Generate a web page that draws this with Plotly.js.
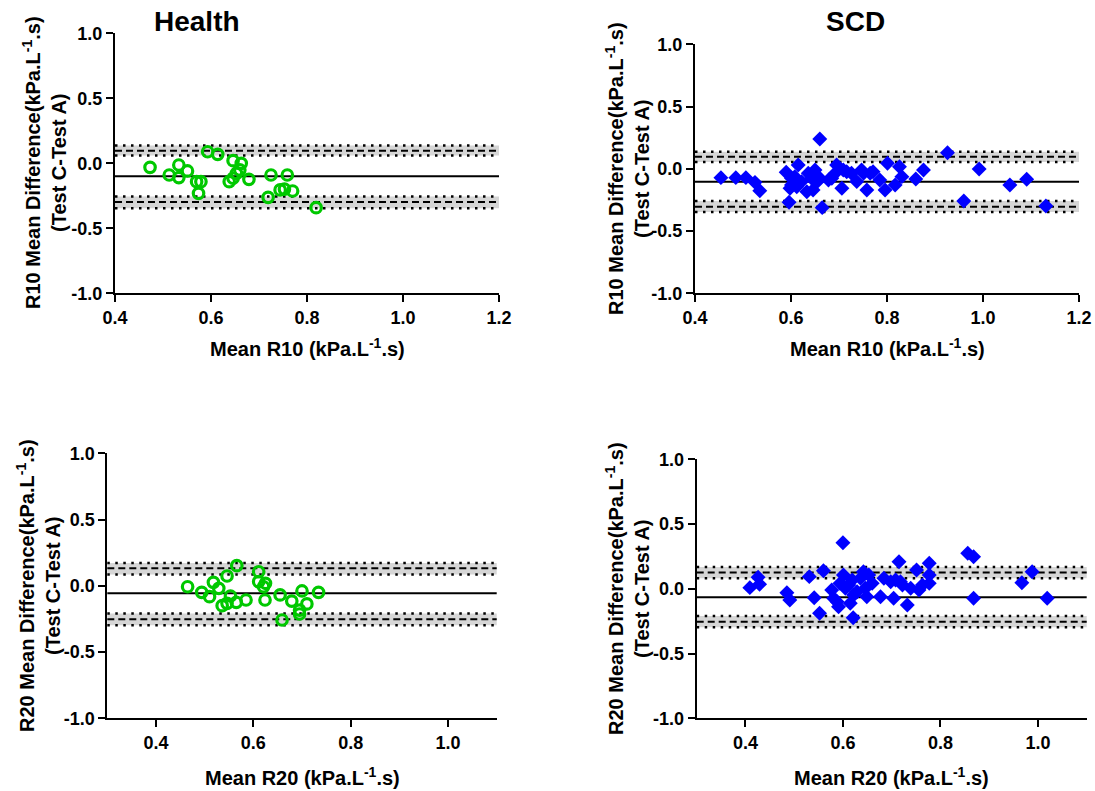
<!DOCTYPE html>
<html>
<head>
<meta charset="utf-8">
<script src="https://cdn.plot.ly/plotly-3.0.1.min.js"></script>
<style>html,body{margin:0;padding:0;background:#fff;}#chart{width:1095px;height:791px;}</style>
</head>
<body>
<div id="chart"></div>
<script>
// ---------- data ----------
var healthR10X = [0.473,0.513,0.533,0.533,0.551,0.570,0.579,0.574,0.593,0.614,0.638,0.646,0.646,0.653,0.663,0.660,0.679,0.725,0.719,0.744,0.753,0.759,0.770,0.819];
var healthR10Y = [-0.031,-0.090,-0.013,-0.110,-0.059,-0.141,-0.141,-0.231,0.089,0.069,-0.141,-0.115,0.020,-0.077,0.000,-0.051,-0.123,-0.090,-0.262,-0.205,-0.198,-0.090,-0.213,-0.341];

var scdR10X = [0.454,0.485,0.506,0.525,0.535,0.590,0.601,0.615,0.598,0.596,0.660,0.665,0.622,0.633,0.643,0.646,0.650,0.655,0.636,0.608,0.685,0.695,0.706,0.709,0.692,0.726,0.737,0.747,0.758,0.765,0.771,0.785,0.796,0.801,0.817,0.826,0.831,0.860,0.876,0.926,0.960,0.992,1.056,1.091,1.131,0.601,0.660,0.612,0.716,0.751,0.678];
var scdR10Y = [-0.071,-0.071,-0.071,-0.109,-0.176,-0.028,-0.076,0.031,-0.157,-0.269,0.239,-0.312,-0.103,-0.184,-0.076,-0.170,-0.010,-0.103,-0.036,-0.063,-0.076,0.031,-0.157,-0.010,-0.036,-0.036,-0.103,-0.010,-0.170,-0.036,-0.023,-0.090,-0.170,0.044,-0.130,0.017,-0.063,-0.082,-0.010,0.129,-0.259,-0.002,-0.130,-0.084,-0.299,-0.130,-0.076,-0.144,-0.023,-0.036,-0.090];

var healthR20X = [0.465,0.494,0.510,0.518,0.529,0.546,0.566,0.536,0.546,0.553,0.565,0.585,0.611,0.611,0.625,0.621,0.624,0.655,0.679,0.659,0.695,0.695,0.700,0.710,0.734];
var healthR20Y = [-0.007,-0.049,-0.082,0.026,-0.019,0.074,0.152,-0.150,-0.132,-0.077,-0.125,-0.107,0.106,0.031,0.019,-0.007,-0.107,-0.069,-0.115,-0.258,-0.183,-0.213,-0.039,-0.137,-0.049];

var scdR20X = [0.409,0.426,0.429,0.485,0.491,0.531,0.541,0.552,0.560,0.600,0.621,0.577,0.588,0.591,0.594,0.601,0.605,0.615,0.619,0.629,0.636,0.642,0.649,0.653,0.660,0.677,0.698,0.704,0.715,0.718,0.732,0.739,0.751,0.756,0.777,0.777,0.777,0.856,0.868,0.868,0.967,0.988,1.019,0.581,0.612,0.622,0.646,0.684,0.763,0.722,0.708];
var scdR20Y = [0.009,0.089,0.035,-0.030,-0.086,0.094,-0.069,-0.189,0.140,0.356,-0.223,-0.009,-0.100,-0.138,0.042,0.107,0.004,-0.112,0.068,-0.022,0.081,0.132,-0.061,0.107,0.042,-0.061,0.055,-0.073,0.209,0.055,-0.125,0.004,0.145,-0.009,0.197,0.107,0.042,0.274,0.248,-0.073,0.047,0.132,-0.073,-0.073,0.029,-0.048,0.004,0.081,0.029,0.029,0.068];

// Bland-Altman statistics per panel: [Health R10, SCD R10, Health R20, SCD R20]
var meanDiff  = [-0.100, -0.104, -0.057, -0.066];
var upperLoA  = [0.097, 0.097, 0.132, 0.125];
var upperCIlo = [0.060, 0.055, 0.086, 0.082];
var upperCIhi = [0.136, 0.137, 0.173, 0.169];
var lowerLoA  = [-0.297, -0.304, -0.253, -0.254];
var lowerCIlo = [-0.345, -0.347, -0.297, -0.297];
var lowerCIhi = [-0.256, -0.259, -0.209, -0.211];

var panelTitles = ['Health', 'SCD'];
var xTitles = ['Mean R10 (kPa.L<sup>-1</sup>.s)', 'Mean R10 (kPa.L<sup>-1</sup>.s)', 'Mean R20 (kPa.L<sup>-1</sup>.s)', 'Mean R20 (kPa.L<sup>-1</sup>.s)'];
var yTitles = ['R10 Mean Difference(kPa.L<sup>-1</sup>.s)<br>(Test C-Test A)', 'R10 Mean Difference(kPa.L<sup>-1</sup>.s)<br>(Test C-Test A)', 'R20 Mean Difference(kPa.L<sup>-1</sup>.s)<br>(Test C-Test A)', 'R20 Mean Difference(kPa.L<sup>-1</sup>.s)<br>(Test C-Test A)'];
var yTickVals = [-1.0, -0.5, 0.0, 0.5, 1.0];
var yTickText = ['-1.0', '-0.5', '0.0', '0.5', '1.0'];
var xTickValsTop = [0.4, 0.6, 0.8, 1.0, 1.2];
var xTickTextTop = ['0.4', '0.6', '0.8', '1.0', '1.2'];
var xTickValsBottom = [0.4, 0.6, 0.8, 1.0];
var xTickTextBottom = ['0.4', '0.6', '0.8', '1.0'];

// ---------- layout helpers ----------
var W = 1095, H = 791;
function px(x) { return x / W; }
function py(y) { return 1 - y / H; }
var FONT = 'Liberation Sans, Arial, sans-serif';
var GREEN = '#00C800', BLUE = '#0000FF';

// panel pixel boxes [left, right, top, bottom]
var boxes = [[115, 499, 33.3, 293.3], [695, 1079, 44.3, 293.3], [107.3, 496.7, 453.3, 718.3], [696.7, 1086.7, 459.3, 718.3]];

var traces = [
  {x: healthR10X, y: healthR10Y, xaxis: 'x', yaxis: 'y', type: 'scatter', mode: 'markers',
   marker: {symbol: 'circle-open', size: 10.5, color: GREEN, line: {width: 3.2, color: GREEN}}},
  {x: scdR10X, y: scdR10Y, xaxis: 'x2', yaxis: 'y2', type: 'scatter', mode: 'markers',
   marker: {symbol: 'diamond', size: 11.5, color: BLUE, line: {width: 0}}},
  {x: healthR20X, y: healthR20Y, xaxis: 'x3', yaxis: 'y3', type: 'scatter', mode: 'markers',
   marker: {symbol: 'circle-open', size: 10.5, color: GREEN, line: {width: 3.2, color: GREEN}}},
  {x: scdR20X, y: scdR20Y, xaxis: 'x4', yaxis: 'y4', type: 'scatter', mode: 'markers',
   marker: {symbol: 'diamond', size: 11.5, color: BLUE, line: {width: 0}}}
];

var layout = {
  width: W, height: H, showlegend: false,
  margin: {l: 0, r: 0, t: 0, b: 0},
  paper_bgcolor: '#fff', plot_bgcolor: 'rgba(0,0,0,0)',
  font: {family: FONT, size: 18, color: '#000', weight: 'bold'},
  shapes: [], annotations: []
};

var xRanges = [[0.4, 1.2], [0.4, 1.2], [0.3, 1.1], [0.3, 1.1]];
for (var i = 0; i < 4; i++) {
  var b = boxes[i];
  var sfx = i === 0 ? '' : String(i + 1);
  var top = i < 2;
  layout['xaxis' + sfx] = {
    domain: [px(b[0]), px(b[1])], anchor: 'y' + sfx, range: xRanges[i],
    showline: true, linewidth: 2, linecolor: '#000', showgrid: false, zeroline: false,
    ticks: 'outside', ticklen: 7, tickwidth: 2, tickcolor: '#000',
    tickvals: top ? xTickValsTop : xTickValsBottom, ticktext: top ? xTickTextTop : xTickTextBottom,
    tickfont: {family: FONT, size: 18, color: '#000', weight: 'bold'}, fixedrange: true
  };
  layout['yaxis' + sfx] = {
    domain: [py(b[3]), py(b[2])], anchor: 'x' + sfx, range: [-1, 1],
    showline: true, linewidth: 2, linecolor: '#000', showgrid: false, zeroline: false,
    ticks: 'outside', ticklen: 7, tickwidth: 2, tickcolor: '#000',
    tickvals: yTickVals, ticktext: yTickText,
    tickfont: {family: FONT, size: 18, color: '#000', weight: 'bold'}, fixedrange: true
  };
  var xr = 'x' + sfx + ' domain', yr = 'y' + sfx;
  layout.shapes.push({type: 'rect', xref: xr, yref: yr, x0: 0, x1: 1, y0: upperCIlo[i], y1: upperCIhi[i], fillcolor: '#d6d6d6', line: {width: 0}, layer: 'below'});
  layout.shapes.push({type: 'rect', xref: xr, yref: yr, x0: 0, x1: 1, y0: lowerCIlo[i], y1: lowerCIhi[i], fillcolor: '#d6d6d6', line: {width: 0}, layer: 'below'});
  [upperCIlo[i], upperCIhi[i], lowerCIlo[i], lowerCIhi[i]].forEach(function (v) {
    layout.shapes.push({type: 'line', xref: xr, yref: yr, x0: 0, x1: 1, y0: v, y1: v, line: {color: '#000', width: 2.5, dash: '2.5px,5.5px'}, layer: 'below'});
  });
  [upperLoA[i], lowerLoA[i]].forEach(function (v) {
    layout.shapes.push({type: 'line', xref: xr, yref: yr, x0: 0, x1: 1, y0: v, y1: v, line: {color: '#000', width: 2, dash: '7px,4px'}, layer: 'below'});
  });
  layout.shapes.push({type: 'line', xref: xr, yref: yr, x0: 0, x1: 1, y0: meanDiff[i], y1: meanDiff[i], line: {color: '#000', width: 2}, layer: 'below'});
}

var xTitlePos = [[307, 347], [887, 347], [302, 776], [891, 776]];
var yTitlePos = [[45, 163], [627, 169], [38, 586], [627, 589]];
for (var j = 0; j < 4; j++) {
  layout.annotations.push({text: xTitles[j], xref: 'paper', yref: 'paper', x: px(xTitlePos[j][0]), y: py(xTitlePos[j][1]),
    xanchor: 'center', yanchor: 'middle', showarrow: false, font: {family: FONT, size: 20, color: '#000', weight: 'bold'}});
  layout.annotations.push({text: yTitles[j], xref: 'paper', yref: 'paper', x: px(yTitlePos[j][0]), y: py(yTitlePos[j][1]),
    xanchor: 'center', yanchor: 'middle', textangle: -90, showarrow: false, font: {family: FONT, size: 20, color: '#000', weight: 'bold'}});
}
layout.annotations.push({text: panelTitles[0], xref: 'paper', yref: 'paper', x: px(197), y: py(21), xanchor: 'center', yanchor: 'middle', showarrow: false, font: {family: FONT, size: 28, color: '#000', weight: 'bold'}});
layout.annotations.push({text: panelTitles[1], xref: 'paper', yref: 'paper', x: px(855), y: py(22), xanchor: 'center', yanchor: 'middle', showarrow: false, font: {family: FONT, size: 28, color: '#000', weight: 'bold'}});

Plotly.newPlot('chart', traces, layout, {displayModeBar: false, staticPlot: true});
</script>
</body>
</html>
